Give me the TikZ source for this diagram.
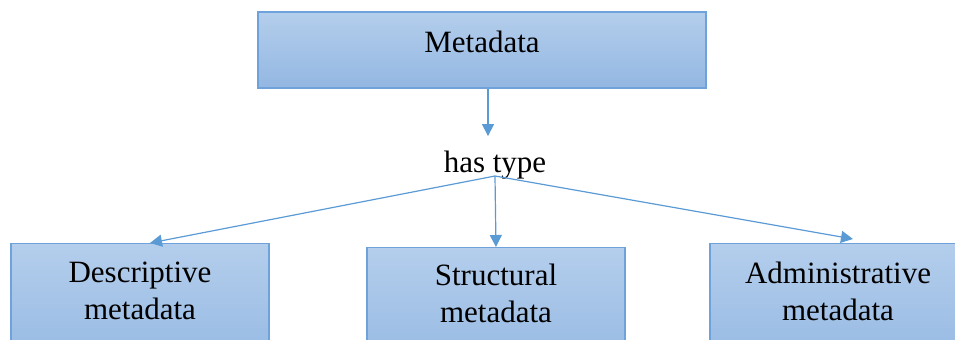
\documentclass[tikz,border=0pt]{standalone}
\usepackage{fontspec}
\setmainfont{Liberation Serif}
\usetikzlibrary{arrows.meta}
\definecolor{boxtop}{HTML}{B4CEEC}
\definecolor{boxbot}{HTML}{93B7E2}
\definecolor{boxline}{HTML}{6FA2DA}
\definecolor{arrline}{HTML}{5B9BD5}
\tikzset{
  box/.style={draw=boxline, line width=0.7pt, top color=boxtop, bottom color=boxbot, minimum width=129pt, inner sep=0pt},
  txt/.style={font=\fontsize{15.5}{18.5}\selectfont, align=center, inner sep=0pt},
  arr/.style={draw=arrline, line width=0.6pt, -{Triangle[length=6pt,width=6pt]}}
}
\begin{document}
\begin{tikzpicture}[x=0.5pt,y=-0.5pt]
\useasboundingbox (0,0) rectangle (955,339);
\clip (0,0) rectangle (955,339);
\node[box, minimum width=224pt, minimum height=38pt] (meta) at (482,50) {};
\node[txt, anchor=base] (metalbl) at (482,52) {Metadata};
\node[txt, anchor=base] (hastype) at (495,172) {has type};
\coordinate (split) at (495,176);

\node[box, anchor=north, minimum height=65pt] (desc) at (140,243) {};
\node[box, anchor=north, minimum height=65pt] (struc) at (496,247) {};
\node[box, anchor=north, minimum height=65pt] (admin) at (839,243) {};
\node[txt] (desclbl) at (140,291) {Descriptive\\metadata};
\node[txt] (struclbl) at (496,293) {Structural\\metadata};
\node[txt] (adminlbl) at (838,291) {Administrative\\metadata};

\path[arr] ([xshift=3pt]meta.south) -- ([xshift=3pt,yshift=7pt]meta.south |- hastype.north);
\path[arr] (split) -- ([xshift=5pt]desc.north);
\path[arr] (split) -- (struc.north);
\path[arr] (split) -- ([xshift=7pt,yshift=2pt]admin.north);
\end{tikzpicture}
\end{document}
